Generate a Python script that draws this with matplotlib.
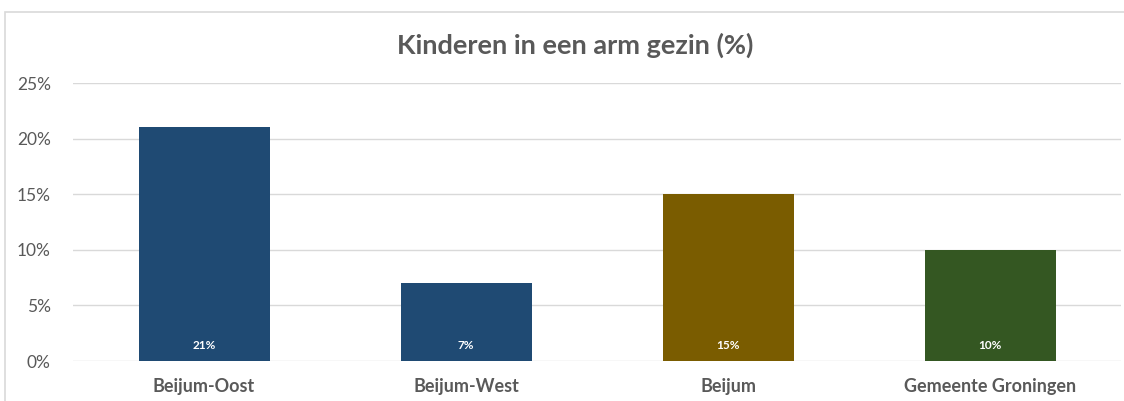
import matplotlib.pyplot as plt
from matplotlib.patches import Rectangle

plt.rcParams['font.family'] = ['Lato', 'DejaVu Sans']

categories = ['Beijum-Oost', 'Beijum-West', 'Beijum', 'Gemeente Groningen']
values = [21, 7, 15, 10]
colors = ['#1f4a73', '#1f4a73', '#7a5c00', '#345722']
yticks = [0, 5, 10, 15, 20, 25]

W, H = 1124, 401
fig = plt.figure(figsize=(W / 100, H / 100), dpi=100)
fig.patches.append(Rectangle((5 / W, -0.1), 1.2, 1 - 12 / H + 0.1, transform=fig.transFigure,
                             facecolor='white', edgecolor='#d9d9d9', linewidth=1.2, zorder=-1))

ax = fig.add_axes([73 / W, 1 - 361 / H, (1121 - 73) / W, (361 - 83) / H])
ax.set_facecolor('none')
x = range(len(categories))
bars = ax.bar(x, values, width=0.5, color=colors, zorder=3)
for xi, v in zip(x, values):
    ax.text(xi, 0.9, '%d%%' % v, ha='center', va='bottom', color='white',
            fontsize=8.5, fontweight='bold', zorder=4)

ax.set_xlim(-0.5, len(categories) - 0.5)
ax.set_ylim(0, 25)
ax.set_yticks(yticks)
ax.set_yticklabels(['%d%%' % t for t in yticks], fontsize=12.5, color='#595959')
ax.set_xticks(list(x))
ax.set_xticklabels(categories, fontsize=13, fontweight='bold', color='#595959')
ax.tick_params(axis='both', length=0)
ax.tick_params(axis='y', pad=16)
ax.tick_params(axis='x', pad=12)
ax.yaxis.grid(True, color='#d9d9d9', linewidth=1, zorder=0)
for s in ax.spines.values():
    s.set_visible(False)

fig.text(575 / W, 1 - 45 / H, 'Kinderen in een arm gezin (%)', ha='center', va='center',
         fontsize=19.5, fontweight='bold', color='#595959')

fig.savefig('out.png', dpi=100)
